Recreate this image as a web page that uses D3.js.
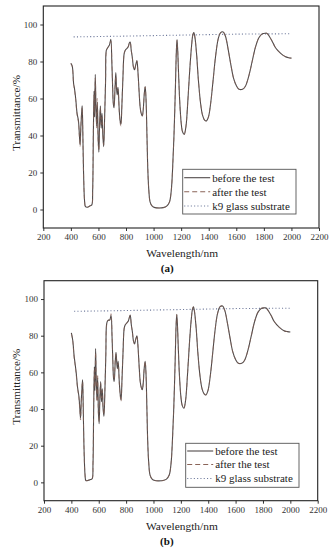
<!DOCTYPE html>
<html>
<head>
<meta charset="utf-8">
<script src="https://cdn.jsdelivr.net/npm/d3@7"></script>
<style>
  body { margin: 0; background: #fff; }
  svg { display: block; }
  text { font-family: "Liberation Serif", "Times New Roman", serif; }
</style>
</head>
<body>
<div id="chart"></div>
<script>
// wavelengths (nm) shared by all measured curves
var wavelengths = [
  400, 410, 420, 425, 435, 445, 455, 462, 467, 472,
  478, 482, 486, 492, 500, 506, 520, 540, 552, 558,
  563, 568, 572, 577, 582, 587, 592, 598, 603, 608,
  614, 620, 626, 632, 638, 645, 652, 657, 664, 672,
  680, 690, 697, 703, 708, 713, 720, 726, 731, 736,
  742, 750, 757, 763, 770, 778, 786, 794, 806, 816,
  824, 830, 838, 846, 854, 862, 870, 879, 886, 894,
  903, 910, 918, 925, 932, 939, 945, 952, 958, 965,
  975, 990, 1010, 1040, 1070, 1095, 1115, 1128, 1138, 1148,
  1158, 1165, 1170, 1175, 1182, 1190, 1200, 1210, 1222, 1235,
  1248, 1262, 1275, 1285, 1292, 1300, 1312, 1325, 1340, 1355,
  1370, 1384, 1398, 1415, 1432, 1450, 1468, 1485, 1505, 1522,
  1540, 1560, 1580, 1600, 1620, 1645, 1665, 1690, 1715, 1740,
  1765, 1790, 1810, 1823, 1840, 1860, 1880, 1900, 1920, 1940,
  1960, 1980, 2000
];

// panel (a)
var beforeA = [
  79, 77.5, 68, 66, 60, 52, 48, 40, 35, 44,
  52, 56, 45, 20, 4, 1.5, 1.2, 2, 2.5, 10,
  40, 64, 50, 73, 55, 45, 58, 38, 31, 45,
  56, 44, 52, 40, 34, 50, 70, 86, 87, 88,
  89, 92, 80, 66, 57, 55, 65, 74, 66, 62,
  66, 55, 48, 46, 56, 72, 84, 86, 87, 88,
  90, 90.5, 86, 82, 77, 75.5, 78, 80.5, 75, 65,
  55, 52, 50.5, 54, 62, 66.5, 60, 40, 22, 11,
  4, 1.8, 1, 0.8, 1, 1.8, 4, 10, 22, 40,
  65, 85, 91.8, 86, 72, 58, 47, 42, 40.6, 45,
  58, 75, 88, 94.5, 95.6, 93, 84, 70, 58, 51,
  48.3, 47.9, 50, 58, 70, 83, 92, 95.5, 96, 93.5,
  87, 78.5, 71, 67, 65, 65, 66.5, 72, 80, 88,
  93, 95, 95.3, 95.2, 93.5, 91, 88, 86, 84.5, 83.3,
  82.5, 82, 81.8
];
var afterA = [
  79, 77, 67, 65, 59, 51, 47, 39, 34, 43,
  53, 55, 44, 19, 4, 1.5, 1.3, 2, 2.6, 11,
  42, 62, 52, 71, 57, 44, 60, 36, 32, 47,
  55, 46, 50, 41, 35, 51, 71, 85, 87, 88,
  89, 91, 81, 67, 58, 56, 67, 72, 67, 64,
  65, 54, 47, 45, 57, 72, 84, 86, 87, 88,
  90, 90.3, 86, 82, 77, 75.5, 78, 80.3, 75, 65,
  55, 52, 50.5, 54, 62, 66.3, 60, 40, 22, 11,
  4, 1.8, 1, 0.8, 1, 1.8, 4, 10, 22, 40,
  65, 85, 91.5, 86, 72, 58, 47, 42, 40.6, 45,
  58, 75, 88, 94.5, 95.6, 93, 84, 70, 58, 51,
  48.3, 47.9, 50, 58, 70, 83, 92, 95.5, 96, 93.5,
  87, 78.5, 71, 67, 65, 65, 66.5, 72, 80, 88,
  93, 95, 95.3, 95.2, 93.5, 91, 88, 86, 84.5, 83.3,
  82.5, 82, 81.8
];

// panel (b)
var beforeB = [
  81.5, 77.5, 69, 66, 60, 52, 47, 40, 35, 44,
  52, 56, 44, 20, 4, 1, 1, 1.5, 2, 10,
  40, 63, 50, 73, 55, 45, 57, 38, 32, 45,
  55, 44, 51, 40, 36, 50, 70, 86, 88, 88.5,
  88.5, 91, 80, 66, 57, 55, 65, 71, 66, 62,
  66, 55, 48, 45, 56, 72, 84, 86, 87, 88,
  90, 91.3, 86, 82, 77, 75.5, 78, 80, 75, 65,
  55, 52, 50.5, 54, 62, 66, 60, 40, 22, 11,
  4, 1.8, 1, 0.8, 1, 1.8, 4, 10, 22, 40,
  65, 85, 91.7, 86, 72, 58, 47, 42, 40.4, 45,
  58, 75, 88, 94.5, 95.8, 93, 84, 70, 58, 51,
  48.3, 47.7, 50, 58, 70, 83, 92, 95.7, 96.2, 93.5,
  87, 78.5, 71, 67, 65, 65, 66.5, 72, 80, 88,
  93, 95, 95.2, 95.1, 93.5, 91, 88, 86, 84.5, 83.3,
  82.5, 82.2, 82
];
var afterB = [
  81, 77, 68, 65, 59, 51, 46, 39, 34, 43,
  53, 55, 43, 19, 4, 1, 1.1, 1.6, 2.1, 11,
  42, 61, 52, 71, 57, 44, 59, 36, 33, 47,
  54, 46, 50, 41, 37, 51, 71, 85, 88, 88.5,
  88.5, 92, 81, 67, 58, 56, 67, 70, 67, 64,
  65, 54, 47, 44, 57, 72, 84, 86, 87, 88,
  90, 91, 86, 82, 77, 75.5, 78, 80, 75, 65,
  55, 52, 50.5, 54, 62, 66, 60, 40, 22, 11,
  4, 1.8, 1, 0.8, 1, 1.8, 4, 10, 22, 40,
  65, 85, 91.5, 86, 72, 58, 47, 42, 40.4, 45,
  58, 75, 88, 94.5, 95.8, 93, 84, 70, 58, 51,
  48.3, 47.7, 50, 58, 70, 83, 92, 95.7, 96.2, 93.5,
  87, 78.5, 71, 67, 65, 65, 66.5, 72, 80, 88,
  93, 95, 95.2, 95.1, 93.5, 91, 88, 86, 84.5, 83.3,
  82.5, 82.2, 82
];

// k9 glass substrate (dotted)
var substrateWl = [420, 700, 1000, 1300, 1600, 2000];
var substrateT = [93.3, 93.6, 94, 94.4, 94.8, 95];

var xTicks = [200, 400, 600, 800, 1000, 1200, 1400, 1600, 1800, 2000, 2200];
var yTicks = [0, 20, 40, 60, 80, 100];
var legendLabels = ['before the test', 'after the test', 'k9 glass substrate'];

var W = 334, H = 550;
var svg = d3.select('#chart').append('svg')
  .attr('width', W).attr('height', H);

var panels = [
  { tag: '(a)', before: beforeA, after: afterA,
    left: 43.3, right: 319, top: 6, bottom: 228,
    titleY: 256.5, tagY: 272,
    legend: { x: 182.7, y: 169.3, w: 113.3, h: 44.7, rows: [177.7, 191.7, 206] } },
  { tag: '(b)', before: beforeB, after: afterB,
    left: 44, right: 317.7, top: 280.7, bottom: 500.7,
    titleY: 530, tagY: 545,
    legend: { x: 185.7, y: 443.3, w: 113.3, h: 44, rows: [451, 464.5, 478.5] } }
];

var solidColor = '#504a4a';
var dashColor = '#8a6458';
var dotColor = '#6f7a9c';

panels.forEach(drawPanel);

function drawPanel(p) {
  var x = d3.scaleLinear().domain([200, 2200]).range([p.left, p.right]);
  var y = d3.scaleLinear().domain([-10, 110]).range([p.bottom, p.top]);
  var g = svg.append('g');

  // axes
  var xAxis = g.append('g')
    .attr('transform', 'translate(0,' + p.bottom + ')')
    .call(d3.axisBottom(x).tickValues(xTicks).tickFormat(d3.format('d'))
      .tickSize(3).tickPadding(3).tickSizeOuter(0));
  var yAxis = g.append('g')
    .attr('transform', 'translate(' + p.left + ',0)')
    .call(d3.axisLeft(y).tickValues(yTicks).tickFormat(d3.format('d'))
      .tickSize(3).tickPadding(3).tickSizeOuter(0));
  [xAxis, yAxis].forEach(function(a) {
    a.select('.domain').remove();
    a.selectAll('line').attr('stroke', '#333');
    a.selectAll('text')
      .attr('fill', '#333')
      .style('font-family', '"Liberation Serif", serif')
      .style('font-size', '9px');
  });

  // frame
  g.append('rect')
    .attr('x', p.left).attr('y', p.top)
    .attr('width', p.right - p.left).attr('height', p.bottom - p.top)
    .attr('fill', 'none').attr('stroke', '#222').attr('stroke-width', 1.1);

  var line = d3.line()
    .x(function(d) { return x(d[0]); })
    .y(function(d) { return y(d[1]); })
    .curve(d3.curveCatmullRom.alpha(0.5));

  var subPts = d3.zip(substrateWl, substrateT);
  g.append('path')
    .attr('d', d3.line().x(d => x(d[0])).y(d => y(d[1]))(subPts))
    .attr('fill', 'none').attr('stroke', dotColor)
    .attr('stroke-width', 1.1).attr('stroke-dasharray', '1.1,2.2');

  g.append('path')
    .attr('d', line(d3.zip(wavelengths, p.before)))
    .attr('fill', 'none').attr('stroke', solidColor).attr('stroke-width', 1.1);

  g.append('path')
    .attr('d', line(d3.zip(wavelengths, p.after)))
    .attr('fill', 'none').attr('stroke', dashColor).attr('stroke-width', 1)
    .attr('stroke-dasharray', '4,3').attr('opacity', 0.6);

  // legend
  var L = p.legend;
  var lg = g.append('g');
  lg.append('rect')
    .attr('x', L.x).attr('y', L.y).attr('width', L.w).attr('height', L.h)
    .attr('fill', '#fff').attr('stroke', '#555').attr('stroke-width', 0.9);
  var styles = [
    { c: solidColor, dash: null, w: 1.1 },
    { c: dashColor, dash: '5,3', w: 1.1 },
    { c: dotColor, dash: '1.1,2.2', w: 1.1 }
  ];
  legendLabels.forEach(function(lab, i) {
    var ly = L.rows[i];
    lg.append('line')
      .attr('x1', L.x + 1.5).attr('x2', L.x + 27.5)
      .attr('y1', ly).attr('y2', ly)
      .attr('stroke', styles[i].c).attr('stroke-width', styles[i].w)
      .attr('stroke-dasharray', styles[i].dash);
    lg.append('text')
      .attr('x', L.x + 29.5).attr('y', ly + 3.8)
      .attr('fill', '#222').style('font-size', '11px')
      .text(lab);
  });

  // titles
  g.append('text')
    .attr('x', (p.left + p.right) / 2 + 1).attr('y', p.titleY)
    .attr('text-anchor', 'middle').attr('fill', '#222')
    .style('font-size', '11.4px')
    .text('Wavelength/nm');
  g.append('text')
    .attr('transform', 'translate(19.5,' + ((p.top + p.bottom) / 2 - 4) + ') rotate(-90)')
    .attr('text-anchor', 'middle').attr('fill', '#222')
    .style('font-size', '11.2px')
    .text('Transmittance/%');
  g.append('text')
    .attr('x', (p.left + p.right) / 2 - 14).attr('y', p.tagY)
    .attr('text-anchor', 'middle').attr('fill', '#111')
    .style('font-size', '11px').style('font-weight', 'bold')
    .text(p.tag);
}
</script>
</body>
</html>
